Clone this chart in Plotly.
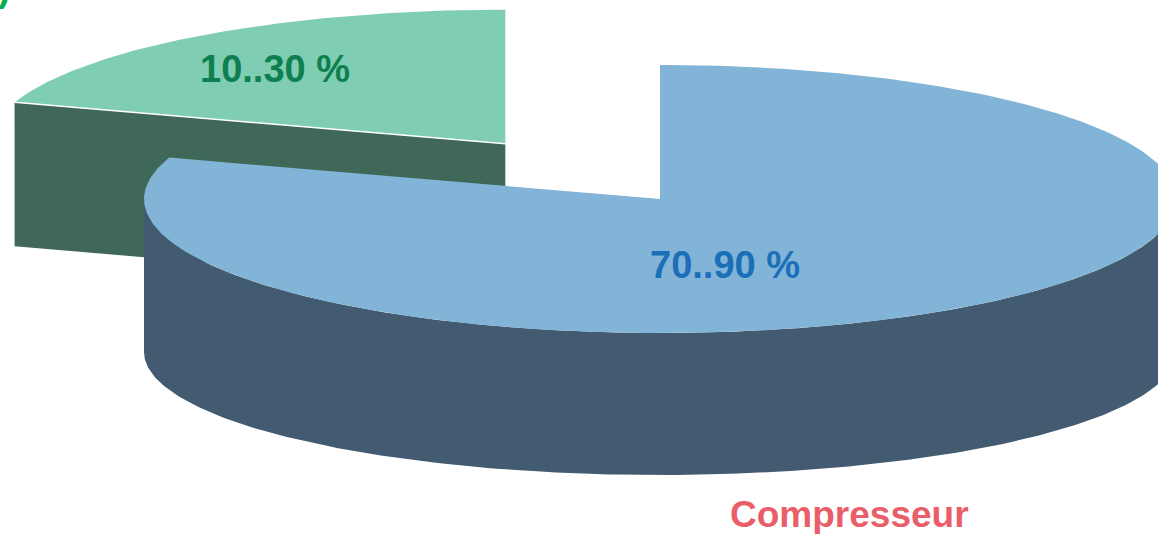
import numpy as np
import plotly.graph_objects as go

# ---- data ----
categories = ["Compresseur", "Autres"]
shares = [80, 20]
share_labels = ["70..90 %", "10..30 %"]

# ---- style / geometry (screen pixels) ----
W, H = 1158, 534
top_col = ["#82B4D8", "#7FCDB2"]
side_col = ["#435B70", "#406858"]
lab_col = ["#1A6FB8", "#0E8050"]
name_col = "#EA5E6A"

cx, cy = 660.0, 199.0      # pie centre (top face)
rx, ry = 516.0, 134.0      # top ellipse radii
depth_b, ry_b = 153.0, 123.0   # bottom ellipse offset / radius (perspective)
explode = 0.51

total = float(sum(shares))
span_small = 360.0 * shares[1] / total
a0 = 90.0                     # 12 o'clock
a_small = (a0, a0 + span_small)            # green slice (counter-clockwise)
a_big = (a0 + span_small, a0 + 360.0)      # blue slice


def rim(t_deg, ox=0.0, oy=0.0, dy=0.0, ryy=ry):
    t = np.radians(t_deg)
    return ox + cx + rx * np.cos(t), oy + cy + dy - ryy * np.sin(t)


fig = go.Figure()


def poly(xs, ys, color):
    fig.add_trace(go.Scatter(x=list(xs), y=list(ys), mode="lines", fill="toself",
                             fillcolor=color, line=dict(width=0, color=color),
                             hoverinfo="skip", showlegend=False))


# ---- small (exploded) slice ----
mid = np.radians((a_small[0] + a_small[1]) / 2)
ox, oy = explode * rx * np.cos(mid), -explode * ry * np.sin(mid)
gd = 144.0
# cut face at the end angle (faces viewer)
rx1, ry1 = rim(a_small[1], ox, oy)
poly([cx + ox, rx1, rx1, cx + ox], [cy + oy, ry1, ry1 + gd, cy + oy + gd], side_col[1])
# top face
t = np.linspace(a_small[0], a_small[1], 120)
xs, ys = rim(t, ox, oy)
poly(np.r_[cx + ox, xs, cx + ox], np.r_[cy + oy, ys, cy + oy], top_col[1])
fig.add_trace(go.Scatter(x=[rx1, cx + ox], y=[ry1, cy + oy], mode="lines",
                         line=dict(color="white", width=1.5), hoverinfo="skip",
                         showlegend=False))

# ---- big slice ----
t = np.linspace(180, 360, 240)
xt, yt = rim(t)
xb, yb = rim(t[::-1], dy=depth_b, ryy=ry_b)
poly(np.r_[xt, xb], np.r_[yt, yb], side_col[0])
t = np.linspace(a_big[0], a_big[1], 400)
xs, ys = rim(t)
poly(np.r_[cx, xs, cx], np.r_[cy, ys, cy], top_col[0])

# ---- labels ----
font = dict(family="Liberation Sans, Arial, sans-serif", size=38)
ann = [
    dict(x=725, y=265, text="<b>%s</b>" % share_labels[0], font=dict(font, color=lab_col[0])),
    dict(x=275, y=69, text="<b>%s</b>" % share_labels[1], font=dict(font, color=lab_col[1])),
    dict(x=849, y=514, text="<b>%s</b>" % categories[0], font=dict(font, size=37, color=name_col)),
    # tail of a category label cut off by the top-left edge of the picture
    dict(x=12, y=11, text="<b>)</b>", xanchor="right", yanchor="bottom",
         font=dict(font, size=37, color="#00B050")),
]
for a in ann:
    a.update(xref="x", yref="y", showarrow=False)
    a.setdefault("xanchor", "center")
    a.setdefault("yanchor", "middle")

fig.update_layout(
    width=W, height=H, margin=dict(l=0, r=0, t=0, b=0),
    paper_bgcolor="white", plot_bgcolor="white",
    xaxis=dict(range=[0, W], visible=False, fixedrange=True),
    yaxis=dict(range=[H, 0], visible=False, fixedrange=True),
    annotations=ann, showlegend=False,
)
fig.write_html("out.html")
